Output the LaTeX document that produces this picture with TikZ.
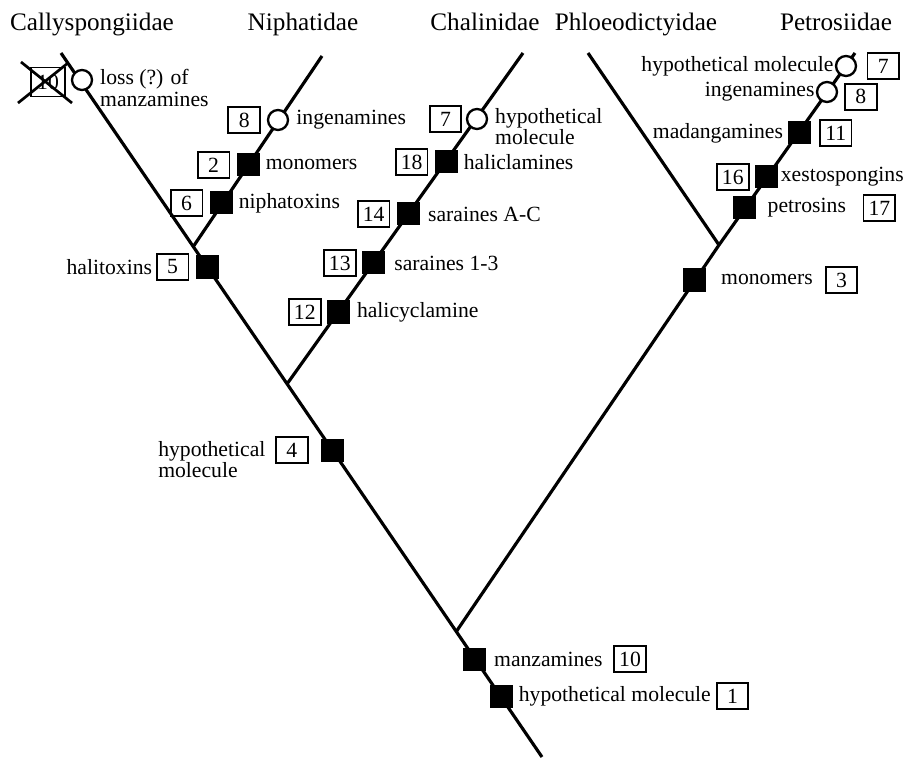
\documentclass[tikz,border=0pt]{standalone}
\usepackage{fontspec}
\setmainfont{Liberation Serif}
\usepackage{tikz}
\usetikzlibrary{positioning,calc}
\newcommand{\lblfont}{\fontsize{18.5}{18}\selectfont}
\newcommand{\cladefont}{\fontsize{21.5}{24}\selectfont}
\tikzset{
  branch/.style={line width=2.7pt, draw=black},
  gain/.style={fill=black, minimum size=0.69cm, inner sep=0pt},
  hypo/.style={circle, draw=black, fill=white, line width=2pt, minimum size=0.6cm, inner sep=0pt},
  num/.style={draw=black, line width=1.6pt, minimum width=0.95cm, minimum height=0.78cm, inner sep=0pt, font=\lblfont},
  lbl/.style={font=\lblfont, inner sep=0pt, align=left},
  clade/.style={font=\cladefont, anchor=base, inner sep=0pt},
  xmark/.style={line width=2.3pt, draw=black},
}

\begin{document}
\begin{tikzpicture}[x=0.03cm, y=-0.03cm]
  \useasboundingbox (0,0) rectangle (910,761);
  % family names
  \node[clade] (hcal) at (92,31) {Callyspongiidae};
  \node[clade] (hnip) at (303,31) {Niphatidae};
  \node[clade] (hcha) at (485,31) {Chalinidae};
  \node[clade] (hphl) at (636,31) {Phloeodictyidae};
  \node[clade] (hpet) at (836,31) {Petrosiidae};

  % tips and forks
  \coordinate (root) at (542,757);
  \coordinate (tcal) at (61,53);
  \coordinate (tnip) at (322,56);
  \coordinate (tcha) at (523,53);
  \coordinate (tphl) at (588,53);
  \coordinate (tpet) at (855,53);
  \coordinate (jpet) at (456,632);
  \coordinate (jcha) at (287,384);
  \coordinate (jnip) at (193,247);
  \coordinate (jphl) at (719,245);
  \draw[branch] (root) -- (tcal);
  \draw[branch] (jnip) -- (tnip);
  \draw[branch] (jcha) -- (tcha);
  \draw[branch] (jpet) -- (jphl) -- (tpet);
  \draw[branch] (jphl) -- (tphl);

  % Callyspongiidae
  \node[hypo] (c10) at (82,80) {};
  \node[lbl, anchor=west] (l10) at (100,88) {loss (?) of\\manzamines};
  \node[num, minimum width=1cm, minimum height=0.87cm] (x10) at (48,82) {10};
  \draw[xmark] ($(x10)+(-27,-20)$) -- ($(x10)+(24,21)$);
  \draw[xmark] ($(x10)+(-30,21)$) -- ($(x10)+(20,-19)$);

  % Niphatidae
  \node[hypo] (c8n) at (278,120) {};
  \node[num, left=5pt of c8n] (n8n) {8};
  \node[lbl, right=6pt of c8n] (l8n) {ingenamines};
  \node[gain] (m2) at (248,165) {};
  \node[num, left=5pt of m2] (n2) {2};
  \node[lbl, right=5pt of m2] (l2) {monomers};
  \node[gain] (m6) at (221,203) {};
  \node[num, left=5pt of m6] (n6) {6};
  \node[lbl, right=5pt of m6] (l6) {niphatoxins};
  \node[gain] (m5) at (207,267) {};
  \node[num, left=5pt of m5] (n5) {5};
  \node[lbl, left=3pt of n5] (l5) {halitoxins};

  % Chalinidae
  \node[gain] (m12) at (338,312) {};
  \node[num, left=4pt of m12] (n12) {12};
  \node[lbl, right=6pt of m12] (l12) {halicyclamine};
  \node[gain] (m13) at (373,263) {};
  \node[num, left=4pt of m13] (n13) {13};
  \node[lbl, right=8pt of m13] (l13) {saraines 1-3};
  \node[gain] (m14) at (408,214) {};
  \node[num, left=5pt of m14] (n14) {14};
  \node[lbl, right=7pt of m14] (l14) {saraines A-C};
  \node[gain] (m18) at (446,162) {};
  \node[num, left=5pt of m18] (n18) {18};
  \node[lbl, right=5pt of m18] (l18) {haliclamines};
  \node[hypo] (c7c) at (477,119) {};
  \node[num, left=3pt of c7c] (n7c) {7};
  \node[lbl, anchor=west] (l7c) at (495,127) {hypothetical\\molecule};

  % stem
  \node[gain] (m4) at (332,450) {};
  \node[num, left=10pt of m4] (n4) {4};
  \node[lbl, left=8pt of n4, yshift=-8pt] (l4) {hypothetical\\molecule};
  \node[gain] (m10) at (474,659) {};
  \node[lbl, right=7pt of m10] (l10m) {manzamines};
  \node[num, right=9pt of l10m] (n10) {10};
  \node[gain] (m1) at (501,696) {};
  \node[lbl, right=5pt of m1] (l1) {hypothetical molecule};
  \node[num, right=4pt of l1] (n1) {1};

  % Phloeodictyidae + Petrosiidae
  \node[gain] (m3) at (694,280) {};
  \node[lbl, right=13pt of m3] (l3) {monomers};
  \node[num, right=10pt of l3] (n3) {3};
  \node[gain] (m17) at (744,208) {};
  \node[lbl, right=10pt of m17] (l17) {petrosins};
  \node[num, right=14pt of l17] (n17) {17};
  \node[gain] (m16) at (766,177) {};
  \node[num, left=4pt of m16] (n16) {16};
  \node[lbl, right=2.5pt of m16] (l16) {xestospongins};
  \node[gain] (m11) at (799,133) {};
  \node[lbl, left=3.5pt of m11] (l11) {madangamines};
  \node[num, right=7pt of m11] (n11) {11};
  \node[hypo] (c8p) at (827,92) {};
  \node[lbl, left=1pt of c8p] (l8p) {ingenamines};
  \node[num, right=5pt of c8p, yshift=-4pt] (n8p) {8};
  \node[hypo] (c7p) at (846,66) {};
  \node[lbl, left=1pt of c7p] (l7p) {hypothetical molecule};
  \node[num, right=8pt of c7p] (n7p) {7};
\end{tikzpicture}
\end{document}
